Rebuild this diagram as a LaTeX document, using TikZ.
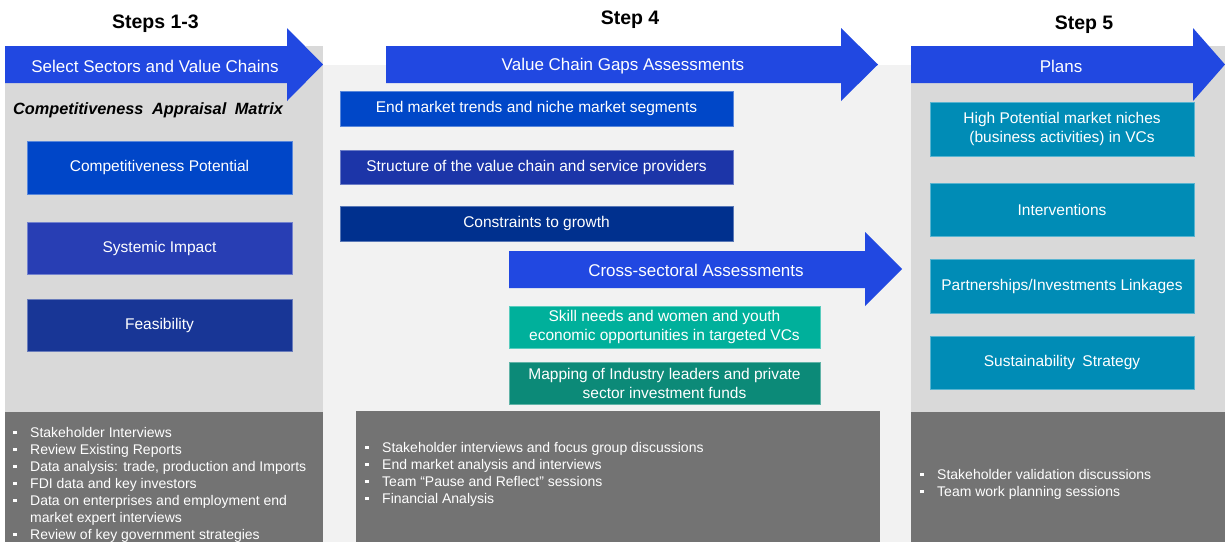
\documentclass[tikz,border=0pt]{standalone}
\usepackage{fontspec}
\setmainfont{Liberation Sans}
\usetikzlibrary{positioning}

\definecolor{arrowblue}{RGB}{33,72,225}
\definecolor{colgray}{RGB}{217,217,217}
\definecolor{midgray}{RGB}{242,242,242}
\definecolor{listgray}{RGB}{115,115,115}
\definecolor{cpblue}{RGB}{0,70,200}
\definecolor{siblue}{RGB}{40,62,180}
\definecolor{feblue}{RGB}{24,54,150}
\definecolor{emblue}{RGB}{0,71,200}
\definecolor{svblue}{RGB}{28,53,168}
\definecolor{cgblue}{RGB}{0,48,142}
\definecolor{skteal}{RGB}{0,176,155}
\definecolor{mpteal}{RGB}{12,138,120}
\definecolor{plcyan}{RGB}{0,140,182}

\newcommand{\sqbullet}{\makebox[17pt][l]{\rule[3pt]{3.5pt}{3.5pt}}}

\begin{document}
\begin{tikzpicture}[x=1pt, y=-1pt,
    stepbox/.style={rectangle, fill=#1, draw=#1!65!white, line width=0.8pt, text=white, align=center, inner sep=0pt, font=\fontsize{15.5}{19}\selectfont},
    arrowtext/.style={text=white, font=\fontsize{17}{20}\selectfont},
    steptitle/.style={font=\fontsize{19.5}{22}\selectfont\bfseries},
    listitem/.style={anchor=west, inner sep=0pt, text=white, text height=11pt, text depth=1pt, font=\fontsize{14}{17}\selectfont}]

    \useasboundingbox (0,0) rectangle (1225,542);

    % column backgrounds
    \fill[colgray] (5,46) rectangle (323,412);
    \fill[midgray] (323,65) rectangle (911,542);
    \fill[colgray] (911,46) rectangle (1225,412);
    \fill[listgray] (5,412) rectangle (323,542);
    \fill[listgray] (356,411) rectangle (880,542);
    \fill[listgray] (911,412) rectangle (1225,542);

    % step arrows
    \fill[arrowblue] (5,46) -- (287,46) -- (287,28) -- (323,64.5) -- (287,101) -- (287,83) -- (5,83) -- cycle;
    \fill[arrowblue] (386,46) -- (841,46) -- (841,28) -- (878,64.5) -- (841,101) -- (841,83) -- (386,83) -- cycle;
    \fill[arrowblue] (509,251) -- (865,251) -- (865,232) -- (902,269) -- (865,306) -- (865,288) -- (509,288) -- cycle;
    \fill[arrowblue] (911,46) -- (1193,46) -- (1193,28) -- (1225,64.5) -- (1193,101) -- (1193,83) -- (911,83) -- cycle;

    \node[arrowtext] (SEL) at (155,66.5) {Select Sectors and Value Chains};
    \node[arrowtext] (VCG) at (623,66.5) {Value Chain Gaps Assessments};
    \node[arrowtext] (CSA) at (696,270.5) {Cross-sectoral Assessments};
    \node[arrowtext] (PLN) at (1061,66.5) {Plans};

    \node[steptitle] (S13) at (155.5,24) {Steps 1-3};
    \node[steptitle] (S4) at (630,20) {Step 4};
    \node[steptitle] (S5) at (1084,25) {Step 5};

    \node[font=\fontsize{16.3}{18}\selectfont\bfseries\itshape] (CAM) at (148,110) {Competitiveness\hspace{4pt} Appraisal\hspace{4pt} Matrix};

    % steps 1-3
    \node[stepbox=cpblue, minimum width=265pt, minimum height=53pt] (CP) at (159.5,167.5) {Competitiveness Potential};
    \node[stepbox=siblue, minimum width=265pt, minimum height=52pt] (SI) at (159.5,248) {Systemic Impact};
    \node[stepbox=feblue, minimum width=265pt, minimum height=52pt] (FE) at (159.5,325) {Feasibility};

    % step 4
    \node[stepbox=emblue, minimum width=393pt, minimum height=35pt] (EM) at (536.5,108.5) {End market trends and niche market segments};
    \node[stepbox=svblue, minimum width=393pt, minimum height=34pt] (SV) at (536.5,167) {Structure of the value chain and service providers};
    \node[stepbox=cgblue, minimum width=393pt, minimum height=35pt] (CG) at (536.5,223.5) {Constraints to growth};
    \node[stepbox=skteal, minimum width=311pt, minimum height=42pt] (SK) at (664.5,327) {Skill needs and women and youth\\economic opportunities in targeted VCs};
    \node[stepbox=mpteal, minimum width=311pt, minimum height=42pt] (MP) at (664.5,383) {Mapping of Industry leaders and private\\sector investment funds};

    % step 5
    \node[stepbox=plcyan, minimum width=264pt, minimum height=54pt] (HP) at (1062,129) {High Potential market niches\\(business activities) in VCs};
    \node[stepbox=plcyan, minimum width=264pt, minimum height=53pt] (IV) at (1062,209.5) {Interventions};
    \node[stepbox=plcyan, minimum width=264pt, minimum height=54pt] (PI) at (1062,286) {Partnerships/Investments Linkages};
    \node[stepbox=plcyan, minimum width=264pt, minimum height=53pt] (SS) at (1062,362.5) {Sustainability\hspace{3pt} Strategy};

    % methods
    \foreach \y/\t [count=\i] in {432/Stakeholder Interviews, 449/Review Existing Reports, 466/{Data analysis: trade, production and Imports}, 483/FDI data and key investors, 500/Data on enterprises and employment end, 534/Review of key government strategies}
        \node[listitem] (la\i) at (13,\y) {\sqbullet\t};
    \node[listitem] (lacont) at (30,517) {market expert interviews};

    \foreach \y/\t [count=\i] in {447/Stakeholder interviews and focus group discussions, 464/End market analysis and interviews, 481/Team “Pause and Reflect” sessions, 498/Financial Analysis}
        \node[listitem] (lb\i) at (365,\y) {\sqbullet\t};

    \foreach \y/\t [count=\i] in {474/Stakeholder validation discussions, 491/Team work planning sessions}
        \node[listitem] (lc\i) at (920,\y) {\sqbullet\t};

\end{tikzpicture}
\end{document}
